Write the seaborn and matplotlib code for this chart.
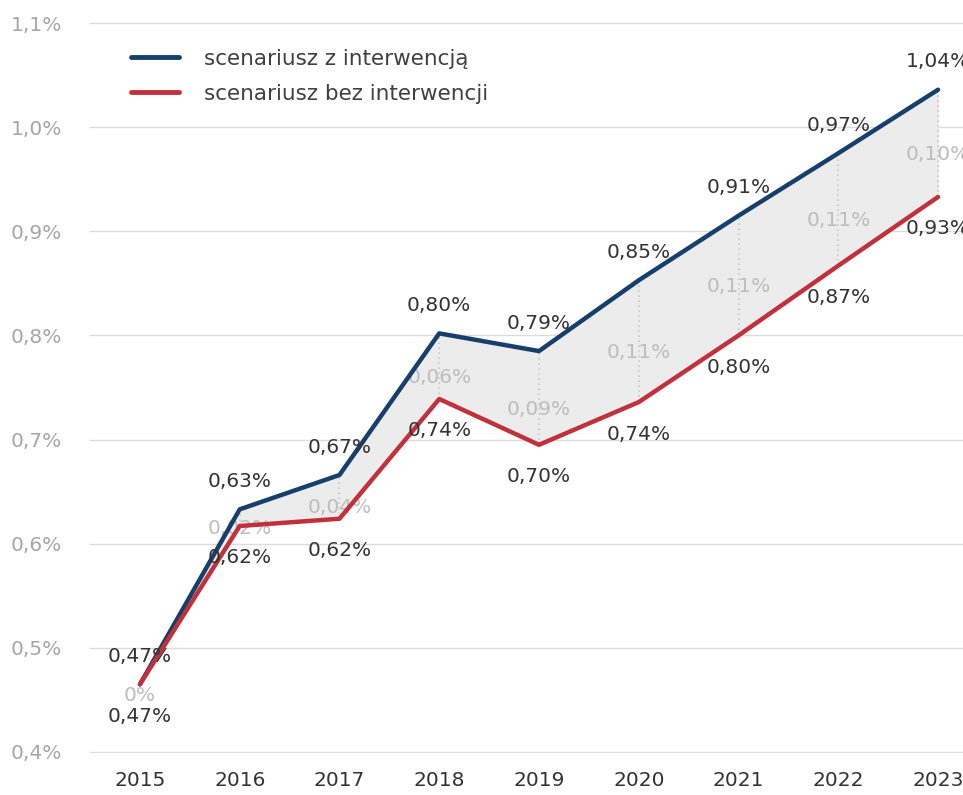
import numpy as np
import pandas as pd
import matplotlib.pyplot as plt
import seaborn as sns

# Data
years = [2015, 2016, 2017, 2018, 2019, 2020, 2021, 2022, 2023]
with_intervention = [0.465, 0.633, 0.666, 0.802, 0.785, 0.853, 0.915, 0.975, 1.036]
without_intervention = [0.465, 0.617, 0.624, 0.739, 0.695, 0.736, 0.800, 0.867, 0.933]
with_labels = ["0,47%", "0,63%", "0,67%", "0,80%", "0,79%", "0,85%", "0,91%", "0,97%", "1,04%"]
without_labels = ["0,47%", "0,62%", "0,62%", "0,74%", "0,70%", "0,74%", "0,80%", "0,87%", "0,93%"]
diff_labels = ["0%", "0,02%", "0,04%", "0,06%", "0,09%", "0,11%", "0,11%", "0,11%", "0,10%"]
series_names = ["scenariusz z interwencją", "scenariusz bez interwencji"]
y_ticks = [0.4, 0.5, 0.6, 0.7, 0.8, 0.9, 1.0, 1.1]
y_tick_labels = ["0,4%", "0,5%", "0,6%", "0,7%", "0,8%", "0,9%", "1,0%", "1,1%"]

navy = "#173f6b"
red = "#c1313c"
dark = "#333333"
grey = "#a6a6a6"

df = pd.DataFrame({
    "year": years * 2,
    "value": with_intervention + without_intervention,
    "series": [series_names[0]] * len(years) + [series_names[1]] * len(years),
})

sns.set_style("white")
plt.rcParams["font.family"] = ["DejaVu Sans"]

fig = plt.figure(figsize=(9.63, 7.95), dpi=100)
ax = fig.add_axes([0.0935, 0.0528, 0.9065, 0.9195])

# shaded gap between scenarios and dotted connectors
ax.fill_between(years, without_intervention, with_intervention, color="#ececec", zorder=1)
ax.vlines(years, without_intervention, with_intervention, colors="#c8c8c8",
          linestyles=(0, (1, 2)), linewidth=1.2, zorder=1.5)

sns.lineplot(data=df, x="year", y="value", hue="series", palette=[navy, red],
             linewidth=3.2, ax=ax, zorder=3, legend=True)

for x, yw, yo, lw, lo, ld in zip(years, with_intervention, without_intervention,
                                 with_labels, without_labels, diff_labels):
    ax.annotate(lw, (x, yw), xytext=(0, 20), textcoords="offset points",
                ha="center", va="center", fontsize=14.5, color=dark, zorder=4)
    ax.annotate(lo, (x, yo), xytext=(0, -23), textcoords="offset points",
                ha="center", va="center", fontsize=14.5, color=dark, zorder=4)
    ax.annotate(ld, (x, (yw + yo) / 2), xytext=(0, -8), textcoords="offset points",
                ha="center", va="center", fontsize=14.5, color="#bdbdbd", zorder=2)

ax.set_xlim(2014.5, 2023.25)
ax.set_ylim(0.399, 1.101)
ax.set_yticks(y_ticks)
ax.set_yticklabels(y_tick_labels)
ax.set_xticks(years)
ax.set_xticklabels([str(y) for y in years])
ax.tick_params(axis="y", colors=grey, labelsize=14.5, length=0, pad=20)
ax.tick_params(axis="x", colors=dark, labelsize=14.5, length=0, pad=13)
ax.grid(axis="y", color="#dcdcdc", linewidth=1)
ax.grid(axis="x", visible=False)
ax.set_xlabel("")
ax.set_ylabel("")
for s in ax.spines.values():
    s.set_visible(False)

leg = ax.legend(loc="upper left", bbox_to_anchor=(0.025, 0.99), frameon=False,
                fontsize=15.5, handlelength=2.2, handletextpad=1.2, labelspacing=0.7)
for t in leg.get_texts():
    t.set_color("#404040")
for h in leg.get_lines():
    h.set_linewidth(3.5)

fig.savefig("out.png", dpi=100)
